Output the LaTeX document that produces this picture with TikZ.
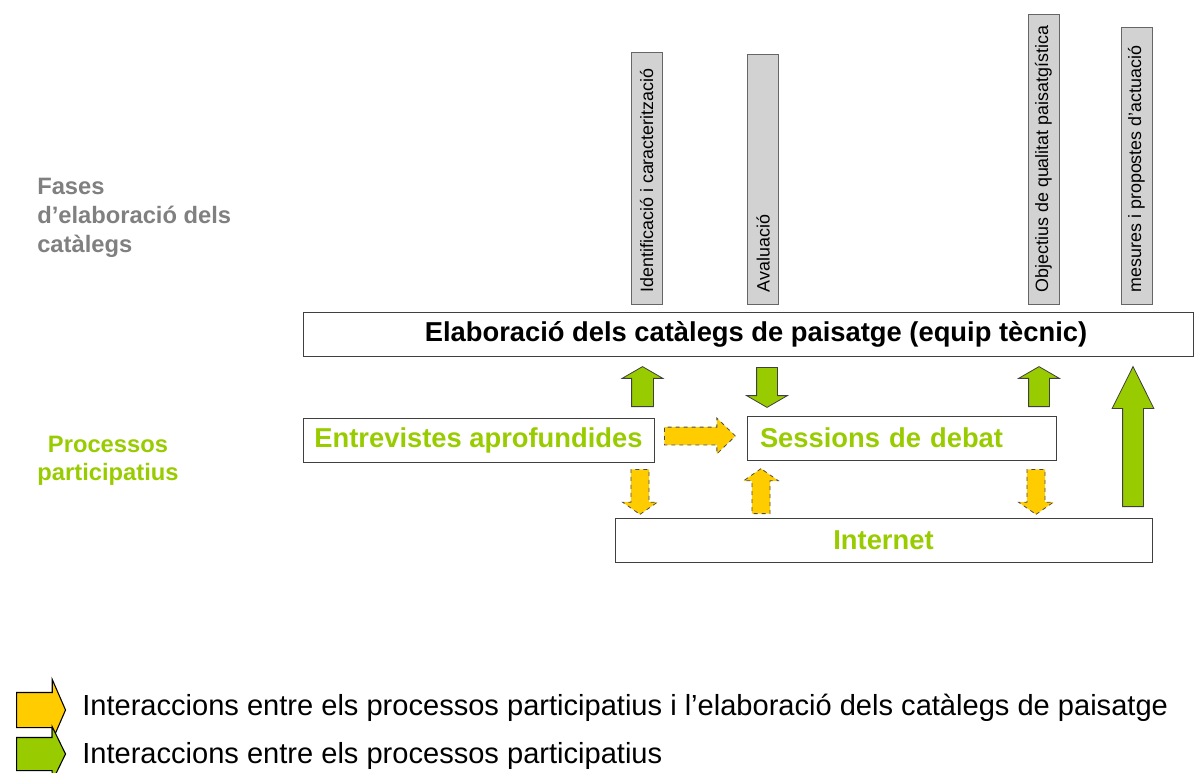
\documentclass[tikz,border=0pt]{standalone}
\usepackage{fontspec}
\setmainfont{Liberation Sans}
\usetikzlibrary{shapes.arrows}
\definecolor{verd}{HTML}{99CC00}
\definecolor{groc}{HTML}{FFCC00}
\definecolor{grisfase}{HTML}{808080}
\definecolor{grisbarra}{HTML}{D2D2D2}
\begin{document}
\begin{tikzpicture}
		[x=0.75pt,y=-0.75pt,
		caixa/.style={draw=black!75,line width=0.6pt,fill=white,inner sep=0pt,minimum height=33pt},
		textverd/.style={text=verd,font=\fontsize{20.5}{24}\selectfont\bfseries},
		barra/.style={draw=black!60,line width=0.6pt,fill=grisbarra,rotate=90,minimum height=23.25pt,inner sep=0pt},
		textbarra/.style={rotate=90,anchor=west,inner xsep=9pt,font=\fontsize{13.4}{16}\selectfont},
		pijverd/.style={single arrow,fill=verd,draw=black!75,line width=0.6pt,inner xsep=0pt,anchor=tail,
			minimum height=30pt,minimum width=30pt,inner ysep=7.5pt,single arrow head extend=7.5pt,single arrow tip angle=120},
		pijgroc/.style={single arrow,fill=groc,draw=black!70,line width=0.6pt,dashed,inner xsep=0pt,anchor=tail,
			minimum height=33.75pt,minimum width=25.5pt,inner ysep=6.5pt,single arrow head extend=6.25pt,single arrow tip angle=110},
		llegenda/.style={single arrow,draw=black,line width=0.8pt,inner xsep=0pt,anchor=tail,minimum height=36.75pt},
		]
		\useasboundingbox (0,0) rectangle (1195,773);

		% fases
		\node[text=grisfase,font=\fontsize{17.8}{21.75}\selectfont\bfseries,align=left,anchor=north west,inner sep=0pt]
			(fases) at (37,178) {Fases\\d’elaboració dels\\catàlegs};
		\node[barra,minimum width=189pt] (ident) at (646.5,178) {};
		\node[barra,minimum width=187.5pt] (aval) at (763,179) {};
		\node[barra,minimum width=217.5pt] (objec) at (1043.5,159) {};
		\node[barra,minimum width=207.75pt] (mesur) at (1136.5,165.5) {};
		\node[textbarra] at (ident.west) {Identificació i caracterització};
		\node[textbarra] at (aval.west) {Avaluació};
		\node[textbarra] at (objec.west) {Objectius de qualitat paisatgística};
		\node[textbarra] at (mesur.west) {mesures i propostes d’actuació};

		\node[caixa,minimum width=667.5pt,font=\fontsize{20.5}{24}\selectfont\bfseries] (elab) at (748,334.5)
			{\hspace*{12pt}Elaboració dels catàlegs de paisatge (equip tècnic)};

		% processos participatius
		\node[textverd,font=\fontsize{17.8}{21}\selectfont\bfseries,align=center,anchor=north,inner sep=0pt]
			(proc) at (108,436) {Processos\\participatius};
		\node[caixa,textverd,minimum width=263.25pt] (entrev) at (478.5,440) {Entrevistes aprofundides};
		\node[caixa,textverd,minimum width=231.75pt,text width=212.25pt,align=left,inner xsep=9.75pt] (sessions)
			at (901.5,438) {Sessions de debat};
		\node[caixa,textverd,minimum width=402.75pt] (internet) at (883.5,540) {Internet};

		% fletxes verdes
		\node[pijverd,rotate=90,inner ysep=7.875pt,single arrow head extend=7.125pt] (v1) at (642.5,407) {};
		\node[pijverd,rotate=-90] (v2) at (767,367) {};
		\node[pijverd,rotate=90] (v3) at (1039,407) {};
		\node[pijverd,rotate=90,minimum height=105pt,minimum width=30.75pt,single arrow head extend=7.875pt,
			single arrow tip angle=53] (v4) at (1133,507) {};

		% fletxes grogues
		\node[pijgroc,minimum height=53.25pt,minimum width=26.25pt,inner ysep=6.375pt,single arrow head extend=6.75pt,
			single arrow tip angle=88] (g1) at (664,436) {};
		\node[pijgroc,rotate=-90] (g2) at (640,469) {};
		\node[pijgroc,rotate=90] (g3) at (761,514) {};
		\node[pijgroc,rotate=-90] (g4) at (1036,469) {};

		% llegenda
		\node[llegenda,fill=groc,minimum width=45pt,inner ysep=12.75pt,single arrow head extend=9.75pt,
			single arrow tip angle=133] (lg) at (16,710) {};
		\node[llegenda,fill=verd,minimum width=40.5pt,inner ysep=12pt,single arrow head extend=8.25pt,
			single arrow tip angle=128] (lv) at (16,754) {};
		\node[anchor=base west,inner sep=0pt,font=\fontsize{21.8}{26}\selectfont] (tg) at (82,715)
			{Interaccions entre els processos participatius i l’elaboració dels catàlegs de paisatge};
		\node[anchor=base west,inner sep=0pt,font=\fontsize{21.8}{26}\selectfont] (tv) at (82,763)
			{Interaccions entre els processos participatius};
	\end{tikzpicture}
\end{document}
